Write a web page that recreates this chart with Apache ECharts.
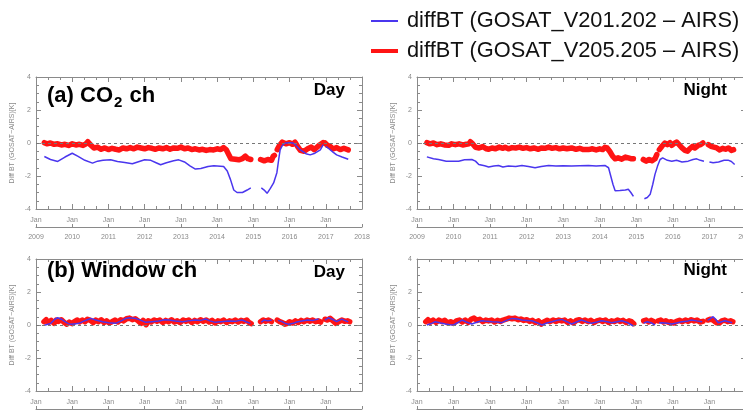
<!DOCTYPE html>
<html>
<head>
<meta charset="utf-8">
<script src="https://cdn.jsdelivr.net/npm/echarts@6/dist/echarts.min.js"></script>
<style>
  html, body { margin: 0; padding: 0; background: #fff; }
  #chart { width: 743px; height: 416px; }
</style>
</head>
<body>
<div id="chart"></div>
<script>
// values: [decimal year, diff BT in K], null = gap in the record
const legendNames = ['diffBT (GOSAT_V201.202 – AIRS)', 'diffBT (GOSAT_V205.205 – AIRS)']
const yearTicks = [2009, 2010, 2011, 2012, 2013, 2014, 2015, 2016, 2017, 2018]

const co2DayBlue = [
  [2009.23, -0.82], [2009.4, -1.0], [2009.6, -1.12], [2009.8, -0.85], [2010.0, -0.62], [2010.15, -0.8],
  [2010.35, -1.05], [2010.56, -1.22], [2010.7, -1.1], [2010.85, -1.05], [2011.06, -1.02], [2011.25, -1.12],
  [2011.45, -1.18], [2011.66, -1.26], [2011.85, -1.12], [2012.0, -1.02], [2012.17, -1.05], [2012.3, -1.18],
  [2012.44, -1.32], [2012.6, -1.2], [2012.8, -1.08], [2012.94, -1.02], [2013.1, -1.15], [2013.25, -1.38],
  [2013.4, -1.58], [2013.55, -1.55], [2013.75, -1.42], [2013.91, -1.38], [2014.18, -1.42], [2014.28, -1.7],
  [2014.37, -2.22], [2014.46, -2.85], [2014.55, -3.0], [2014.7, -3.0], [2014.83, -2.85], [2014.93, -2.72],
  null,
  [2015.22, -2.72], [2015.3, -2.85], [2015.38, -3.05], [2015.47, -2.75], [2015.56, -2.42], [2015.65, -1.8],
  [2015.7, -1.0], [2015.74, -0.42], [2015.8, -0.15], [2015.88, 0.0], [2016.0, 0.02], [2016.1, 0.0],
  [2016.2, -0.2], [2016.3, -0.42], [2016.45, -0.65], [2016.57, -0.72], [2016.7, -0.62], [2016.85, -0.42],
  [2016.93, -0.1],
  null,
  [2017.0, -0.2], [2017.07, -0.32], [2017.2, -0.55], [2017.3, -0.72], [2017.45, -0.85], [2017.62, -0.98]
]

const co2DayRed = [
  [2009.23, 0.02], [2009.3, -0.05], [2009.4, 0.0], [2009.5, -0.08], [2009.6, -0.05], [2009.7, -0.12],
  [2009.8, -0.08], [2009.9, -0.15], [2010.0, -0.05], [2010.1, -0.12], [2010.2, -0.08], [2010.3, -0.15],
  [2010.38, -0.05], [2010.43, 0.08], [2010.5, -0.1], [2010.6, -0.3], [2010.7, -0.25], [2010.8, -0.38],
  [2010.9, -0.3], [2011.0, -0.4], [2011.1, -0.32], [2011.2, -0.38], [2011.3, -0.42], [2011.4, -0.3],
  [2011.5, -0.35], [2011.6, -0.28], [2011.7, -0.35], [2011.8, -0.25], [2011.9, -0.3], [2012.0, -0.35],
  [2012.1, -0.28], [2012.2, -0.32], [2012.3, -0.38], [2012.4, -0.3], [2012.5, -0.35], [2012.6, -0.28],
  [2012.7, -0.38], [2012.8, -0.3], [2012.9, -0.32], [2013.0, -0.25], [2013.1, -0.35], [2013.2, -0.3],
  [2013.3, -0.4], [2013.4, -0.35], [2013.5, -0.42], [2013.6, -0.38], [2013.7, -0.45], [2013.8, -0.4],
  [2013.9, -0.42], [2014.0, -0.35], [2014.1, -0.4], [2014.18, -0.28], [2014.25, -0.4], [2014.32, -0.7],
  [2014.38, -0.95], [2014.5, -0.98], [2014.6, -1.02], [2014.7, -0.95], [2014.78, -0.8], [2014.85, -0.95],
  [2014.93, -1.0],
  null,
  [2015.2, -1.0], [2015.3, -1.08], [2015.4, -1.0], [2015.5, -1.05], [2015.55, -0.8], [2015.58, -0.75],
  null,
  [2015.66, -0.4], [2015.72, -0.15], [2015.8, 0.05], [2015.9, -0.05], [2016.0, 0.02], [2016.08, -0.08],
  [2016.15, 0.05], [2016.22, -0.2], [2016.3, -0.45], [2016.4, -0.5], [2016.5, -0.35], [2016.6, -0.25],
  [2016.68, -0.4], [2016.76, -0.25], [2016.84, -0.1], [2016.92, 0.02],
  null,
  [2016.98, 0.0], [2017.05, -0.15], [2017.12, -0.2], [2017.2, -0.35], [2017.3, -0.28], [2017.4, -0.4],
  [2017.5, -0.32], [2017.62, -0.42]
]

const co2NightBlue = [
  [2009.27, -0.84], [2009.45, -0.95], [2009.59, -1.0], [2009.8, -1.1], [2009.96, -1.1], [2010.14, -1.1],
  [2010.3, -1.02], [2010.5, -1.0], [2010.6, -1.1], [2010.69, -1.3], [2010.85, -1.38], [2010.96, -1.45],
  [2011.1, -1.4], [2011.23, -1.36], [2011.35, -1.45], [2011.5, -1.4], [2011.7, -1.42], [2011.87, -1.36],
  [2012.05, -1.42], [2012.23, -1.5], [2012.4, -1.42], [2012.6, -1.36], [2012.8, -1.4], [2013.0, -1.38],
  [2013.23, -1.4], [2013.45, -1.38], [2013.69, -1.36], [2013.9, -1.4], [2014.14, -1.36], [2014.24, -1.5],
  [2014.3, -2.0], [2014.36, -2.5], [2014.42, -2.9], [2014.55, -2.88], [2014.7, -2.85], [2014.78, -2.8],
  [2014.85, -3.0], [2014.92, -3.24],
  null,
  [2015.22, -3.38], [2015.3, -3.3], [2015.38, -3.1], [2015.45, -2.5], [2015.51, -1.9], [2015.58, -1.4],
  [2015.65, -1.0], [2015.72, -0.9], [2015.85, -1.05], [2015.97, -1.1], [2016.1, -1.05], [2016.25, -1.15],
  [2016.42, -1.1], [2016.55, -1.0], [2016.65, -0.96], [2016.75, -1.05], [2016.85, -1.1],
  null,
  [2017.0, -1.15], [2017.1, -1.2], [2017.25, -1.15], [2017.4, -1.05], [2017.51, -1.04], [2017.6, -1.12],
  [2017.69, -1.3]
]

const co2NightRed = [
  [2009.27, 0.02], [2009.35, -0.05], [2009.45, 0.0], [2009.55, -0.1], [2009.65, -0.05], [2009.75, -0.12],
  [2009.87, -0.14], [2009.95, -0.05], [2010.05, -0.1], [2010.15, -0.05], [2010.25, -0.12], [2010.35, -0.08],
  [2010.42, -0.05], [2010.46, 0.08], [2010.52, -0.05], [2010.6, -0.26], [2010.7, -0.3], [2010.8, -0.22],
  [2010.9, -0.35], [2010.96, -0.38], [2011.05, -0.3], [2011.15, -0.35], [2011.25, -0.25], [2011.35, -0.32],
  [2011.41, -0.26], [2011.5, -0.35], [2011.6, -0.28], [2011.7, -0.3], [2011.8, -0.25], [2011.9, -0.32],
  [2012.0, -0.28], [2012.1, -0.35], [2012.2, -0.3], [2012.32, -0.38], [2012.4, -0.3], [2012.5, -0.32],
  [2012.6, -0.25], [2012.7, -0.32], [2012.8, -0.28], [2012.9, -0.35], [2013.0, -0.3], [2013.1, -0.35],
  [2013.23, -0.3], [2013.35, -0.38], [2013.45, -0.32], [2013.55, -0.4], [2013.69, -0.4], [2013.8, -0.35],
  [2013.9, -0.42], [2014.0, -0.35], [2014.08, -0.4], [2014.14, -0.26], [2014.2, -0.3], [2014.27, -0.5],
  [2014.35, -0.8], [2014.42, -0.96], [2014.5, -0.9], [2014.6, -0.98], [2014.7, -0.85], [2014.78, -0.9],
  [2014.85, -0.95], [2014.92, -0.96],
  null,
  [2015.19, -1.0], [2015.27, -1.1], [2015.35, -1.0], [2015.43, -1.08], [2015.51, -0.96], [2015.56, -0.7],
  null,
  [2015.63, -0.4], [2015.7, -0.2], [2015.78, 0.0], [2015.85, -0.1], [2015.92, 0.02], [2015.97, -0.14],
  [2016.04, -0.02], [2016.1, 0.06], [2016.17, -0.1], [2016.25, -0.3], [2016.33, -0.45], [2016.4, -0.5],
  [2016.46, -0.35], [2016.54, -0.2], [2016.6, -0.3], [2016.69, -0.15], [2016.76, -0.1], [2016.82, 0.0],
  null,
  [2016.97, -0.1], [2017.04, -0.2], [2017.12, -0.25], [2017.2, -0.3], [2017.28, -0.42], [2017.36, -0.32],
  [2017.44, -0.38], [2017.52, -0.3], [2017.6, -0.45], [2017.66, -0.4]
]

const winDayBlue = [
  [2009.23, -0.02], [2009.41, 0.1], [2009.52, 0.35], [2009.6, 0.44], [2009.7, 0.35], [2009.78, 0.24],
  [2009.88, 0.1], [2009.96, 0.04], [2010.1, 0.08], [2010.19, 0.1], [2010.3, 0.22], [2010.42, 0.32],
  [2010.51, 0.4], [2010.65, 0.3], [2010.84, 0.2], [2011.0, 0.14], [2011.2, 0.1], [2011.35, 0.25],
  [2011.48, 0.4], [2011.57, 0.44], [2011.75, 0.4], [2011.9, 0.28], [2012.03, 0.16], [2012.2, 0.2],
  [2012.39, 0.24], [2012.55, 0.32], [2012.67, 0.3], [2012.85, 0.24], [2013.04, 0.2], [2013.2, 0.25],
  [2013.4, 0.3], [2013.55, 0.28], [2013.68, 0.36], [2013.8, 0.25], [2013.95, 0.16], [2014.1, 0.2],
  [2014.32, 0.24], [2014.5, 0.22], [2014.69, 0.3], [2014.8, 0.2], [2014.92, 0.1],
  null,
  [2015.22, 0.18], [2015.3, 0.3], [2015.4, 0.25], [2015.51, 0.3],
  null,
  [2015.68, 0.28], [2015.78, 0.22], [2015.88, 0.1], [2015.97, 0.04], [2016.1, 0.1], [2016.2, 0.18],
  [2016.34, 0.24], [2016.5, 0.3], [2016.65, 0.28], [2016.8, 0.36],
  null,
  [2016.98, 0.3], [2017.07, 0.44], [2017.18, 0.35], [2017.3, 0.2], [2017.44, 0.36], [2017.55, 0.25],
  [2017.62, 0.2]
]

const winDayRed = [
  [2009.22, 0.2], [2009.28, 0.32], [2009.35, 0.15], [2009.42, 0.28], [2009.5, 0.1], [2009.56, 0.3],
  [2009.62, 0.22], [2009.7, 0.32], [2009.78, 0.15], [2009.85, 0.05], [2009.92, 0.18], [2010.0, 0.08],
  [2010.07, 0.22], [2010.14, 0.3], [2010.2, 0.18], [2010.28, 0.3], [2010.35, 0.2], [2010.42, 0.35],
  [2010.5, 0.28], [2010.58, 0.15], [2010.65, 0.3], [2010.72, 0.2], [2010.8, 0.32], [2010.88, 0.15],
  [2010.95, 0.25], [2011.02, 0.12], [2011.1, 0.2], [2011.18, 0.3], [2011.26, 0.18], [2011.34, 0.32],
  [2011.42, 0.25], [2011.5, 0.38], [2011.58, 0.42], [2011.66, 0.32], [2011.74, 0.38], [2011.82, 0.25],
  [2011.9, 0.1], [2011.96, 0.28], [2012.04, 0.02], [2012.1, 0.25], [2012.18, 0.18], [2012.26, 0.3],
  [2012.34, 0.22], [2012.42, 0.3], [2012.5, 0.15], [2012.58, 0.28], [2012.66, 0.2], [2012.74, 0.32],
  [2012.82, 0.18], [2012.9, 0.25], [2012.98, 0.15], [2013.06, 0.3], [2013.14, 0.22], [2013.22, 0.3],
  [2013.3, 0.15], [2013.38, 0.28], [2013.46, 0.2], [2013.54, 0.32], [2013.62, 0.22], [2013.7, 0.3],
  [2013.78, 0.18], [2013.86, 0.28], [2013.94, 0.12], [2014.02, 0.25], [2014.1, 0.2], [2014.18, 0.3],
  [2014.26, 0.15], [2014.34, 0.25], [2014.42, 0.2], [2014.5, 0.3], [2014.58, 0.18], [2014.66, 0.28],
  [2014.74, 0.22], [2014.82, 0.3], [2014.88, 0.15], [2014.94, 0.08],
  null,
  [2015.2, 0.2], [2015.27, 0.3], [2015.34, 0.22], [2015.42, 0.3], [2015.5, 0.2],
  null,
  [2015.66, 0.3], [2015.73, 0.2], [2015.8, 0.15], [2015.87, 0.05], [2015.94, 0.1], [2016.0, 0.2],
  [2016.08, 0.12], [2016.16, 0.25], [2016.24, 0.15], [2016.32, 0.28], [2016.4, 0.2], [2016.48, 0.3],
  [2016.56, 0.22], [2016.64, 0.3], [2016.72, 0.2], [2016.8, 0.25], [2016.86, 0.18],
  null,
  [2016.98, 0.35], [2017.05, 0.3], [2017.12, 0.4], [2017.2, 0.25], [2017.28, 0.1], [2017.36, 0.2],
  [2017.44, 0.3], [2017.52, 0.22], [2017.6, 0.25], [2017.66, 0.2]
]

const winNightBlue = [
  [2009.27, 0.0], [2009.4, 0.1], [2009.5, 0.2], [2009.65, 0.12], [2009.78, 0.06], [2009.9, 0.02],
  [2010.0, 0.0], [2010.12, 0.15], [2010.23, 0.3], [2010.35, 0.18], [2010.5, 0.06], [2010.65, 0.18],
  [2010.78, 0.26], [2010.92, 0.22], [2011.05, 0.2], [2011.2, 0.18], [2011.32, 0.14], [2011.45, 0.28],
  [2011.6, 0.4], [2011.75, 0.36], [2011.87, 0.3], [2012.0, 0.28], [2012.14, 0.26], [2012.3, 0.12],
  [2012.42, 0.0], [2012.55, 0.12], [2012.69, 0.2], [2012.82, 0.28], [2012.96, 0.34], [2013.1, 0.2],
  [2013.23, 0.06], [2013.38, 0.2], [2013.5, 0.3], [2013.65, 0.18], [2013.78, 0.1], [2013.92, 0.18],
  [2014.05, 0.26], [2014.2, 0.2], [2014.33, 0.14], [2014.47, 0.2], [2014.6, 0.26], [2014.75, 0.15],
  [2014.92, -0.06],
  null,
  [2015.2, 0.12], [2015.3, 0.2], [2015.42, 0.12], [2015.51, 0.0],
  null,
  [2015.62, 0.12], [2015.7, 0.14], [2015.85, 0.1], [2015.97, 0.06], [2016.1, 0.12], [2016.24, 0.2],
  [2016.38, 0.22], [2016.51, 0.3], [2016.65, 0.25], [2016.8, 0.2],
  null,
  [2016.95, 0.28], [2017.03, 0.4], [2017.1, 0.5], [2017.17, 0.35], [2017.24, 0.14], [2017.33, 0.2],
  [2017.42, 0.26], [2017.52, 0.2], [2017.62, 0.14]
]

const winNightRed = [
  [2009.24, 0.2], [2009.3, 0.32], [2009.37, 0.18], [2009.44, 0.3], [2009.52, 0.15], [2009.6, 0.3],
  [2009.68, 0.2], [2009.76, 0.28], [2009.84, 0.12], [2009.92, 0.2], [2010.0, 0.1], [2010.08, 0.25],
  [2010.16, 0.3], [2010.24, 0.18], [2010.32, 0.3], [2010.4, 0.15], [2010.48, 0.35], [2010.56, 0.42],
  [2010.64, 0.28], [2010.72, 0.35], [2010.8, 0.2], [2010.88, 0.3], [2010.96, 0.25], [2011.04, 0.3],
  [2011.12, 0.18], [2011.2, 0.28], [2011.28, 0.22], [2011.36, 0.3], [2011.44, 0.35], [2011.52, 0.42],
  [2011.6, 0.38], [2011.68, 0.42], [2011.76, 0.32], [2011.84, 0.36], [2011.92, 0.28], [2012.0, 0.32],
  [2012.08, 0.22], [2012.16, 0.28], [2012.24, 0.15], [2012.32, 0.25], [2012.4, 0.05], [2012.48, 0.2],
  [2012.56, 0.28], [2012.64, 0.2], [2012.72, 0.3], [2012.8, 0.22], [2012.88, 0.3], [2012.96, 0.25],
  [2013.04, 0.3], [2013.12, 0.15], [2013.2, 0.25], [2013.28, 0.12], [2013.36, 0.28], [2013.44, 0.32],
  [2013.52, 0.22], [2013.6, 0.3], [2013.68, 0.2], [2013.76, 0.28], [2013.84, 0.15], [2013.92, 0.25],
  [2014.0, 0.3], [2014.08, 0.22], [2014.16, 0.3], [2014.24, 0.15], [2014.32, 0.25], [2014.4, 0.2],
  [2014.48, 0.3], [2014.56, 0.22], [2014.64, 0.28], [2014.72, 0.15], [2014.8, 0.25], [2014.87, 0.2],
  [2014.93, 0.08],
  null,
  [2015.2, 0.25], [2015.27, 0.3], [2015.34, 0.18], [2015.41, 0.28], [2015.48, 0.2],
  null,
  [2015.6, 0.25], [2015.67, 0.3], [2015.74, 0.18], [2015.81, 0.25], [2015.88, 0.15], [2015.95, 0.2],
  [2016.02, 0.12], [2016.1, 0.22], [2016.18, 0.28], [2016.26, 0.2], [2016.34, 0.3], [2016.42, 0.22],
  [2016.5, 0.32], [2016.58, 0.25], [2016.66, 0.3], [2016.74, 0.18], [2016.82, 0.22],
  null,
  [2016.96, 0.3], [2017.03, 0.35], [2017.1, 0.3], [2017.18, 0.15], [2017.26, 0.1], [2017.34, 0.25],
  [2017.42, 0.3], [2017.5, 0.2], [2017.58, 0.25], [2017.64, 0.2]
]

const FONT = '"Liberation Sans", Arial, sans-serif'
const GREY = '#8a8a8a'
const BLUE = '#4a36ee'
const RED = '#ff1414'
const yName = 'Diff BT (GOSAT\u2212AIRS)[K]'

// panel boxes [left, top, width, height]
const panels = [
  { box: [36, 77, 326, 132], red: co2DayRed, blue: co2DayBlue },
  { box: [417, 77, 329, 132], red: co2NightRed, blue: co2NightBlue },
  { box: [36, 259, 326, 132], red: winDayRed, blue: winDayBlue },
  { box: [417, 259, 329, 132], red: winNightRed, blue: winNightBlue }
]

const toSeriesData = pts => pts.map(p => (p === null ? '-' : p))

const tickStyle = { color: GREY, width: 1 }
const grid = []
const xAxis = []
const yAxis = []
const series = []

panels.forEach(p => {
  const [left, top, width, height] = p.box
  const g = grid.length
  // keep the boxes where they are, even where labels run off the page
  grid.push({ left, top, width, height, outerBoundsMode: 'none' })
  // helper strip under each panel carrying the year axis
  grid.push({ left, top: top + height, width, height: 18, outerBoundsMode: 'none' })

  const xi = xAxis.length
  xAxis.push({
    gridIndex: g, type: 'value', min: 2009, max: 2018, interval: 1, position: 'bottom',
    axisLine: { show: true, onZero: false, lineStyle: tickStyle },
    axisTick: { inside: true, length: 5, lineStyle: tickStyle },
    minorTick: { show: true, splitNumber: 3, length: 3, lineStyle: tickStyle },
    splitLine: { show: false },
    axisLabel: {
      formatter: v => (v < 2018 ? 'Jan' : ''),
      margin: 8, fontSize: 7, color: GREY, fontFamily: FONT
    }
  })
  xAxis.push({
    gridIndex: g, type: 'value', min: 2009, max: 2018, interval: 1, position: 'top',
    axisLine: { show: true, onZero: false, lineStyle: tickStyle },
    axisTick: { inside: true, length: 5, lineStyle: tickStyle },
    minorTick: { show: true, splitNumber: 3, length: 3, lineStyle: tickStyle },
    splitLine: { show: false },
    axisLabel: { show: false }
  })
  xAxis.push({
    gridIndex: g + 1, type: 'value', min: 2009, max: 2018, interval: 1, position: 'bottom',
    axisLine: { show: true, onZero: false, lineStyle: tickStyle },
    axisTick: { inside: true, length: 3, lineStyle: tickStyle },
    splitLine: { show: false },
    axisLabel: {
      formatter: v => yearTicks.includes(v) ? String(v) : '',
      margin: 7, fontSize: 7, color: GREY, fontFamily: FONT
    }
  })

  const yi = yAxis.length
  yAxis.push({
    gridIndex: g, type: 'value', min: -4, max: 4, interval: 2, position: 'left',
    name: yName, nameLocation: 'middle', nameGap: 20,
    nameTextStyle: { fontSize: 7, color: GREY, fontFamily: FONT },
    axisLine: { show: true, onZero: false, lineStyle: tickStyle },
    axisTick: { inside: true, length: 5, lineStyle: tickStyle },
    minorTick: { show: true, splitNumber: 4, length: 3, lineStyle: tickStyle },
    splitLine: { show: false },
    axisLabel: { margin: 5, fontSize: 7, color: GREY, fontFamily: FONT }
  })
  yAxis.push({
    gridIndex: g, type: 'value', min: -4, max: 4, interval: 2, position: 'right',
    axisLine: { show: true, onZero: false, lineStyle: tickStyle },
    axisTick: { inside: true, length: 5, lineStyle: tickStyle },
    minorTick: { show: true, splitNumber: 4, length: 3, lineStyle: tickStyle },
    splitLine: { show: false },
    axisLabel: { show: false }
  })
  yAxis.push({ gridIndex: g + 1, type: 'value', show: false })

  series.push({
    name: legendNames[1], type: 'line', xAxisIndex: xi, yAxisIndex: yi,
    data: toSeriesData(p.red), symbol: 'none', connectNulls: false,
    lineStyle: { color: RED, width: 5.5, cap: 'round', join: 'round' },
    itemStyle: { color: RED },
    markLine: {
      silent: true, symbol: 'none', label: { show: false },
      lineStyle: { type: [3, 3], color: '#777', width: 1 },
      data: [{ yAxis: 0 }]
    }
  })
  series.push({
    name: legendNames[0], type: 'line', xAxisIndex: xi, yAxisIndex: yi,
    data: toSeriesData(p.blue), symbol: 'none', connectNulls: false,
    lineStyle: { color: BLUE, width: 1.5 },
    itemStyle: { color: BLUE }
  })
})

const headStyle = size => ({ fontSize: size, fontWeight: 'bold', color: '#000', fontFamily: FONT })

const option = {
  animation: false,
  backgroundColor: '#fff',
  grid,
  xAxis,
  yAxis,
  series,
  legend: {
    orient: 'vertical', left: 371, top: 10, itemGap: 8, itemWidth: 27, itemHeight: 12,
    padding: 0, symbolKeepAspect: true,
    textStyle: { fontSize: 21.8, color: '#111', fontFamily: FONT, padding: [0, 0, 0, 4] },
    data: [
      { name: legendNames[0], icon: 'path://M0,0H27V2H0Z', itemStyle: { color: BLUE } },
      { name: legendNames[1], icon: 'path://M0,0H27V4H0Z', itemStyle: { color: RED } }
    ]
  },
  title: [
    {
      text: '{t|(a) CO}{s|2}{t| ch}', left: 47, top: 85, padding: 0,
      textStyle: {
        rich: {
          t: { ...headStyle(22), lineHeight: 22, verticalAlign: 'top' },
          s: { ...headStyle(15), lineHeight: 15, verticalAlign: 'top', padding: [10, 1, 0, 1] }
        }
      }
    },
    { text: '(b) Window ch', left: 47, top: 260, padding: 0, textStyle: { ...headStyle(22), lineHeight: 22 } },
    { text: 'Day', right: 398, top: 82, padding: 0, textStyle: headStyle(17) },
    { text: 'Night', right: 16, top: 82, padding: 0, textStyle: headStyle(17) },
    { text: 'Day', right: 398, top: 264, padding: 0, textStyle: headStyle(17) },
    { text: 'Night', right: 16, top: 262, padding: 0, textStyle: headStyle(17) }
  ]
}

const chart = echarts.init(document.getElementById('chart'), null, { renderer: 'canvas' })
chart.setOption(option)
</script>
</body>
</html>
